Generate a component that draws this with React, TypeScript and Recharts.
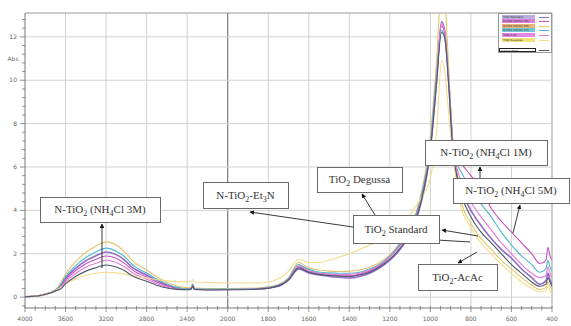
import React from 'react';
import { LineChart, Line, XAxis, YAxis, ReferenceLine, Legend } from 'recharts';

// Wavenumbers (cm-1) at which the spectra were read
const wavenumbers = [
  4000, 3850, 3750, 3700, 3650, 3600, 3500, 3400, 3300, 3200, 3100, 3000, 2950, 2900, 2800, 2700, 2600, 2500, 2400,
  2360, 2345, 2330, 2200, 2000, 1850, 1750, 1700, 1650, 1600, 1550, 1500, 1450, 1400, 1350, 1300, 1250, 1200, 1150,
  1100, 1050, 1000, 970, 945, 930, 910, 890, 870, 850, 800, 750, 700, 650, 600, 550, 500, 460, 430, 420, 410, 400,
];

const xTickLabels = [4000, 3600, 3200, 2800, 2400, 2000, 1800, 1600, 1400, 1200, 1000, 800, 600, 400];
const yTickLabels = [0, 2, 4, 6, 8, 10, 12];

const seriesNames = [
  'TiO2 Standard',
  'N-TiO2 (NH4Cl 5M)',
  'N-TiO2 (NH4Cl 3M)',
  'N-TiO2 (NH4Cl 1M)',
  'TiO2-AcAc',
  'TiO2 Degussa',
  'N-TiO2-Et3N',
];
const seriesColors = ['#8e6cc8', '#c850c0', '#e2c46a', '#4fb8cc', '#e27ad8', '#f3dc8c', '#4a5a66'];
const legendTints = ['#bcaedc', '#dc82dc', '#eab474', '#74c8d2', '#e487e4', '#f2e27a', '#ffffff'];

const sStandard = [0.02, 0.08, 0.2, 0.3, 0.52, 0.87, 1.33, 1.68, 1.91, 2.08, 1.96, 1.64, 1.41, 1.25, 1.02, 0.77, 0.56, 0.42, 0.37, 0.4, 0.58, 0.38, 0.36, 0.36, 0.38, 0.5, 0.78, 1.3, 1.12, 1.02, 0.96, 0.92, 0.88, 0.95, 1.1, 1.35, 1.7, 2.2, 2.9, 4.2, 6.8, 9.9, 12.7, 12.3, 10.0, 7.0, 5.7, 5.0, 4.0, 3.3, 2.7, 2.2, 1.8, 1.3, 0.9, 0.6, 0.75, 1.1, 0.8, 0.6];
const sNH4Cl5M = [0.02, 0.09, 0.21, 0.32, 0.48, 0.8, 1.22, 1.54, 1.75, 1.9, 1.79, 1.5, 1.29, 1.14, 0.93, 0.7, 0.51, 0.4, 0.36, 0.39, 0.56, 0.37, 0.35, 0.36, 0.4, 0.55, 0.85, 1.4, 1.2, 1.1, 1.05, 1.0, 0.98, 1.05, 1.2, 1.45, 1.85, 2.4, 3.1, 4.4, 7.0, 10.1, 12.5, 12.2, 10.2, 7.3, 6.5, 6.2, 5.6, 5.0, 4.1, 3.5, 3.0, 2.5, 2.0, 1.55, 1.7, 2.3, 1.9, 1.7];
const sNH4Cl3M = [0.03, 0.1, 0.22, 0.34, 0.64, 1.07, 1.63, 2.07, 2.35, 2.55, 2.4, 2.01, 1.73, 1.53, 1.25, 0.94, 0.69, 0.51, 0.43, 0.45, 0.62, 0.42, 0.4, 0.4, 0.42, 0.58, 0.9, 1.6, 1.35, 1.25, 1.2, 1.18, 1.2, 1.25, 1.38, 1.6, 1.95, 2.5, 3.2, 4.6, 7.4, 10.8, 14.2, 13.8, 10.6, 7.2, 5.6, 4.5, 3.4, 2.7, 2.2, 1.7, 1.3, 0.9, 0.55, 0.35, 0.45, 0.7, 0.5, 0.35];
const sNH4Cl1M = [0.02, 0.08, 0.2, 0.31, 0.57, 0.95, 1.45, 1.83, 2.08, 2.26, 2.12, 1.79, 1.54, 1.36, 1.11, 0.84, 0.61, 0.45, 0.38, 0.41, 0.6, 0.39, 0.37, 0.37, 0.4, 0.56, 0.86, 1.5, 1.28, 1.16, 1.12, 1.1, 1.1, 1.15, 1.3, 1.52, 1.9, 2.45, 3.15, 4.5, 7.1, 10.3, 12.3, 12.0, 10.1, 7.2, 6.2, 5.8, 5.0, 4.3, 3.7, 3.0, 2.4, 1.9, 1.5, 1.15, 1.3, 1.7, 1.4, 1.2];
const sAcAc = [0.02, 0.08, 0.19, 0.29, 0.43, 0.71, 1.09, 1.38, 1.56, 1.7, 1.6, 1.34, 1.16, 1.02, 0.83, 0.63, 0.46, 0.38, 0.35, 0.38, 0.55, 0.36, 0.34, 0.35, 0.39, 0.54, 0.83, 1.45, 1.22, 1.1, 1.06, 1.03, 1.05, 1.1, 1.25, 1.48, 1.85, 2.35, 3.05, 4.35, 6.9, 10.0, 12.6, 12.3, 10.0, 7.1, 6.0, 5.4, 4.4, 3.7, 3.1, 2.5, 2.0, 1.5, 1.1, 0.9, 1.0, 1.4, 1.1, 0.9];
const sDegussa = [0.02, 0.08, 0.18, 0.28, 0.45, 0.6, 0.85, 1.0, 1.1, 1.15, 1.12, 1.05, 1.0, 0.95, 0.88, 0.8, 0.75, 0.72, 0.7, 0.72, 0.8, 0.7, 0.68, 0.65, 0.65, 0.85, 1.2, 1.75, 1.6, 1.6, 1.7, 1.85, 2.0, 2.2, 2.4, 2.6, 2.85, 3.2, 3.8, 4.5, 5.5, 7.5, 10.9, 10.5, 8.5, 6.5, 5.3, 4.2, 3.2, 2.5, 2.0, 1.5, 1.1, 0.7, 0.4, 0.25, 0.3, 0.5, 0.3, 0.15];
const sEt3N = [0.02, 0.08, 0.19, 0.29, 0.37, 0.62, 0.95, 1.2, 1.36, 1.48, 1.39, 1.17, 1.01, 0.89, 0.73, 0.55, 0.42, 0.36, 0.34, 0.37, 0.52, 0.35, 0.33, 0.34, 0.37, 0.52, 0.8, 1.35, 1.15, 1.05, 1.0, 0.97, 0.95, 1.02, 1.15, 1.4, 1.75, 2.25, 2.95, 4.25, 6.8, 9.8, 12.2, 12.0, 9.8, 6.9, 5.6, 4.8, 3.7, 3.0, 2.5, 2.0, 1.5, 1.1, 0.7, 0.5, 0.6, 0.9, 0.7, 0.5];

const seriesValues = [sStandard, sNH4Cl5M, sNH4Cl3M, sNH4Cl1M, sAcAc, sDegussa, sEt3N];

// split wavenumber scale: 400 cm-1 per division above 2000, 200 cm-1 per division below
const toU = (w: number) => (w >= 2000 ? (4000 - w) / 400 : 5 + (2000 - w) / 200);

const data = wavenumbers.map((w, i) => {
  const row: Record<string, number> = { u: toU(w) };
  seriesValues.forEach((s, k) => {
    row['s' + k] = s[i];
  });
  return row;
});

const xTicks: number[] = [];
for (let i = 0; i <= 52; i++) xTicks.push(i / 4);
const yTicks: number[] = [];
for (let i = -1; i <= 32; i++) yTicks.push(Math.round(i * 0.4 * 10) / 10);

const XTick = (props: any) => {
  const { x, y, payload } = props;
  const v = payload.value;
  const major = Math.abs(v - Math.round(v)) < 1e-6;
  return (
    <g>
      <line x1={x} x2={x} y1={y - 2} y2={y + (major ? 4 : 2.5)} stroke="#777" strokeWidth={0.8} />
      {major && (
        <text x={x} y={y + 13} textAnchor="middle" fontSize={6} fontFamily="DejaVu Sans" fill="#666">
          {xTickLabels[Math.round(v)]}
        </text>
      )}
    </g>
  );
};

const YTick = (props: any) => {
  const { x, y, payload } = props;
  const v = payload.value;
  const major = Math.abs(v / 2 - Math.round(v / 2)) < 1e-6;
  return (
    <g>
      <line x1={x - (major ? 5 : 3)} x2={x} y1={y} y2={y} stroke="#777" strokeWidth={0.8} />
      {major && yTickLabels.includes(Math.round(v)) && (
        <text x={x - 8} y={y + 2} textAnchor="end" fontSize={6} fontFamily="DejaVu Sans" fill="#666">
          {Math.round(v)}
        </text>
      )}
    </g>
  );
};

const LegendBox = () => (
  <div
    style={{
      position: 'relative',
      width: 54,
      height: 40,
      border: '1px solid #999',
      boxSizing: 'border-box',
      background: '#fff',
    }}
  >
    {seriesNames.map((n, i) => {
      const top = i < 6 ? 0.5 + i * 4.6 : 34;
      const last = i === 6;
      return (
        <div key={n} style={{ position: 'absolute', top, left: 0, width: 54, height: 4.4 }}>
          <div
            style={{
              position: 'absolute',
              left: last ? 0 : 3,
              top: 0,
              width: last ? 37 : 33,
              height: last ? 4.4 : 4,
              background: legendTints[i],
              border: last ? '1px solid #222' : 'none',
              boxSizing: 'border-box',
              fontSize: 2.8,
              lineHeight: '4px',
              fontFamily: 'DejaVu Sans',
              color: '#333',
              whiteSpace: 'nowrap',
              paddingLeft: 1,
            }}
          >
            {n}
          </div>
          <div
            style={{
              position: 'absolute',
              left: 40,
              top: 2,
              width: 10,
              height: 0,
              borderTop: `1px solid ${seriesColors[i]}`,
            }}
          />
        </div>
      );
    })}
  </div>
);

type Part = [string, boolean];
const sub = (t: string): Part => [t, true];
const txt = (t: string): Part => [t, false];

const annotations: { x: number; y: number; w: number; h: number; parts: Part[] }[] = [
  { x: 40, y: 197, w: 120, h: 25, parts: [txt('N-TiO'), sub('2'), txt(' (NH'), sub('4'), txt('Cl 3M)')] },
  { x: 203, y: 182, w: 85, h: 26, parts: [txt('N-TiO'), sub('2'), txt('-Et'), sub('3'), txt('N')] },
  { x: 317, y: 167, w: 85, h: 25, parts: [txt('TiO'), sub('2'), txt(' Degussa')] },
  { x: 353, y: 215, w: 86, h: 28, parts: [txt('TiO'), sub('2'), txt(' Standard')] },
  { x: 425, y: 140, w: 122, h: 25, parts: [txt('N-TiO'), sub('2'), txt(' (NH'), sub('4'), txt('Cl 1M)')] },
  { x: 453, y: 178, w: 116, h: 25, parts: [txt('N-TiO'), sub('2'), txt(' (NH'), sub('4'), txt('Cl 5M)')] },
  { x: 418, y: 264, w: 79, h: 26, parts: [txt('TiO'), sub('2'), txt('-AcAc')] },
];

const arrows: { x1: number; y1: number; x2: number; y2: number; head: boolean }[] = [
  { x1: 102, y1: 268, x2: 102, y2: 224, head: true },
  { x1: 353, y1: 227, x2: 250, y2: 212, head: true },
  { x1: 375, y1: 215, x2: 362, y2: 194, head: true },
  { x1: 478, y1: 236, x2: 442, y2: 230, head: true },
  { x1: 437, y1: 240, x2: 470, y2: 242, head: false },
  { x1: 480, y1: 178, x2: 480, y2: 167, head: true },
  { x1: 513, y1: 233, x2: 520, y2: 205, head: true },
  { x1: 477, y1: 252, x2: 458, y2: 263, head: true },
];

const Annotation = ({ x, y, w, h, parts }: { x: number; y: number; w: number; h: number; parts: Part[] }) => {
  let prevSub = false;
  return (
    <g>
      <rect x={x + 0.5} y={y + 0.5} width={w} height={h} fill="#fff" stroke="#6a6a6a" strokeWidth={1} />
      <text
        x={x + w / 2}
        y={y + h / 2 + 3.5}
        textAnchor="middle"
        fontSize={11}
        fontFamily="Liberation Serif"
        fill="#333"
      >
        {parts.map(([t, s], i) => {
          const dy = (s ? 3 : 0) - (prevSub ? 3 : 0);
          prevSub = s;
          return (
            <tspan key={i} dy={dy} fontSize={s ? 8 : 11}>
              {t}
            </tspan>
          );
        })}
      </text>
    </g>
  );
};

export default function App() {
  return (
    <div style={{ position: 'absolute', left: 0, top: 0, width: 571, height: 326, background: '#fff' }}>
      <LineChart width={571} height={326} data={data} margin={{ top: 13, right: 19, left: 0, bottom: 0 }}>
        {xTicks
          .filter((t) => Math.abs(t - Math.round(t)) < 1e-6 && t > 0)
          .map((t) => (
            <ReferenceLine
              key={'vx' + t}
              x={t}
              stroke={t === 5 ? '#7a7a7a' : t === 13 ? '#999' : '#d2d2d2'}
              strokeWidth={t === 5 ? 1.2 : 1}
            />
          ))}
        {yTickLabels.map((t) => (
          <ReferenceLine key={'hy' + t} y={t} stroke="#d2d2d2" strokeWidth={1} />
        ))}
        <ReferenceLine y={13.1} stroke="#999" strokeWidth={1} />
        <XAxis
          dataKey="u"
          type="number"
          domain={[0, 13]}
          ticks={xTicks}
          interval={0}
          tick={<XTick />}
          tickLine={false}
          tickSize={0}
          tickMargin={0}
          height={18}
          axisLine={{ stroke: '#777' }}
          allowDataOverflow
        />
        <YAxis
          type="number"
          domain={[-0.5, 13.1]}
          ticks={yTicks}
          interval={0}
          tick={<YTick />}
          tickLine={false}
          tickSize={0}
          tickMargin={0}
          width={25}
          axisLine={{ stroke: '#777' }}
          allowDataOverflow
        />
        <Legend
          layout="vertical"
          align="center"
          verticalAlign="middle"
          content={() => <LegendBox />}
          wrapperStyle={{ left: 498, top: 13, width: 54, height: 40 }}
        />
        {seriesNames.map((n, k) => (
          <Line
            key={n}
            name={n}
            dataKey={'s' + k}
            type="monotone"
            stroke={seriesColors[k]}
            strokeWidth={k === 0 ? 1.6 : 1.1}
            dot={false}
            activeDot={false}
            isAnimationActive={false}
          />
        ))}
      </LineChart>
      <svg
        width={571}
        height={326}
        style={{ position: 'absolute', left: 0, top: 0, pointerEvents: 'none' }}
      >
        <defs>
          <marker id="ah" viewBox="0 0 10 10" refX="9" refY="5" markerWidth="5" markerHeight="5" orient="auto">
            <path d="M0,0 L10,5 L0,10 z" fill="#111" />
          </marker>
        </defs>
        <text x={13} y={61} textAnchor="middle" fontSize={6} fontFamily="DejaVu Sans" fill="#666">
          Abs
        </text>
        {arrows.map((a, i) => (
          <line
            key={i}
            x1={a.x1}
            y1={a.y1}
            x2={a.x2}
            y2={a.y2}
            stroke="#222"
            strokeWidth={0.9}
            markerEnd={a.head ? 'url(#ah)' : undefined}
          />
        ))}
        {annotations.map((a, i) => (
          <Annotation key={i} {...a} />
        ))}
      </svg>
    </div>
  );
}
